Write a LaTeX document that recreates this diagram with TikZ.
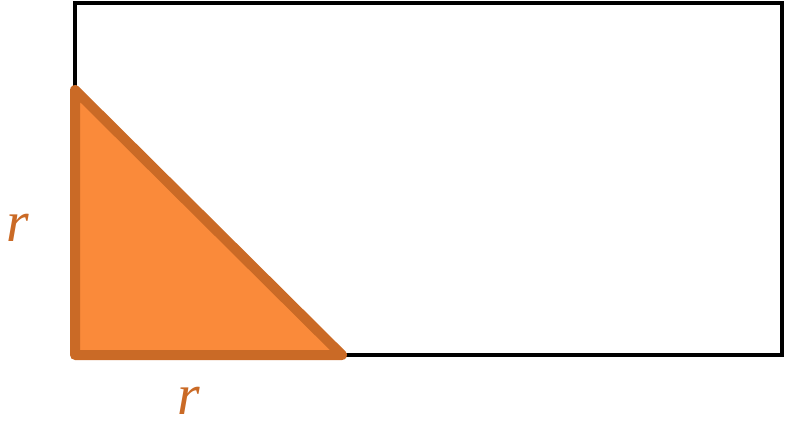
\documentclass[tikz,border=0pt]{standalone}
\usepackage{fontspec}
\usepackage{amsmath}
\usepackage{tikz}
\newfontfamily\labelfont{Liberation Serif}
\definecolor{triFill}{HTML}{FA8A3A}
\definecolor{triEdge}{HTML}{CA6A26}
\tikzstyle{outerbox} = [draw=black, line width=3.5pt]
\tikzstyle{tri} = [draw=triEdge, fill=triFill, line width=10pt, line join=round]
\tikzstyle{sidelabel} =[text=triEdge, inner sep=0pt, text height=26pt, text depth=0pt,
    font=\labelfont\fontsize{58}{60}\selectfont\itshape]

\begin{document}
\begin{tikzpicture}[x=1pt,y=-1pt]
                \useasboundingbox (0,0) rectangle (786,421);
                \coordinate (A) at (75,90);
                \coordinate (B) at (75,355);
                \coordinate (C) at (342,355);
                \draw[outerbox] (75,3) rectangle (782,355);
                \draw[tri] (A) -- (B) -- (C) -- cycle;
                \node[sidelabel] (rleft) at (18,228) {r};
                \node[sidelabel] (rbottom) at (189,401) {r};
            \end{tikzpicture}
\end{document}
